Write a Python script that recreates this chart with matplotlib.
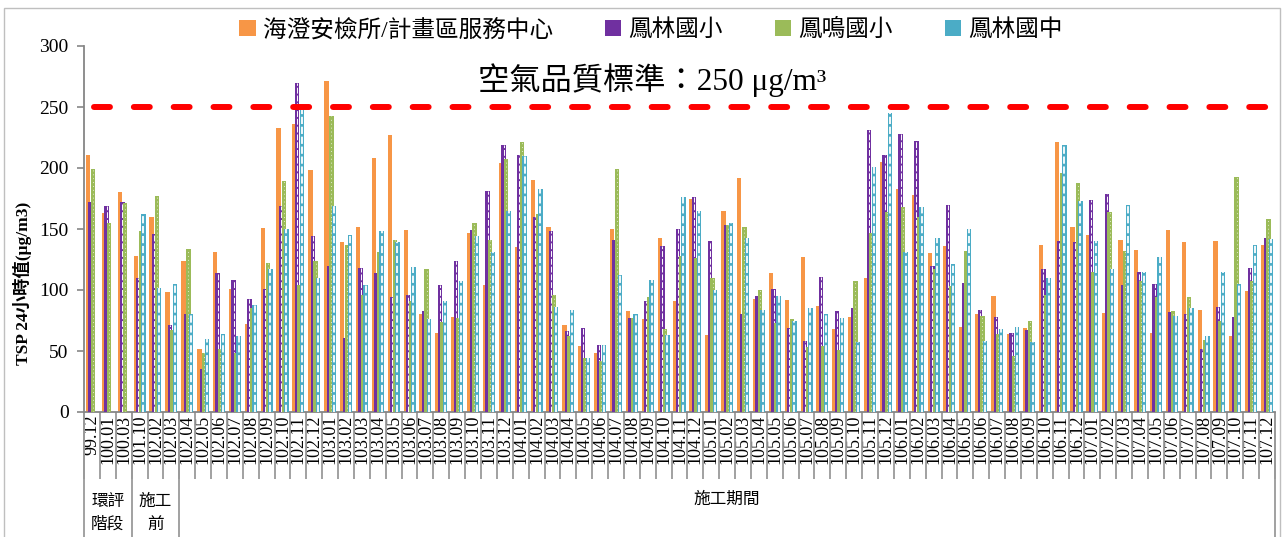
"""TSP 24-hour values at four monitoring stations, with the 250 ug/m3 standard."""

import matplotlib

matplotlib.use("Agg")
import matplotlib.pyplot as plt
import matplotlib.transforms as mtransforms
from matplotlib.patches import Rectangle
import numpy as np

plt.rcParams["font.family"] = ["Liberation Serif", "Noto Sans CJK TC", "DejaVu Sans"]

CATEGORIES = [
    "99.12", "100.01", "100.03", "101.10", "102.02", "102.03",
    "102.04", "102.05", "102.06", "102.07", "102.08", "102.09", "102.10", "102.11", "102.12",
    "103.01", "103.02", "103.03", "103.04", "103.05", "103.06",
    "103.07", "103.08", "103.09", "103.10", "103.11", "103.12",
    "104.01", "104.02", "104.03", "104.04", "104.05", "104.06",
    "104.07", "104.08", "104.09", "104.10", "104.11", "104.12",
    "105.01", "105.02", "105.03", "105.04", "105.05", "105.06",
    "105.07", "105.08", "105.09", "105.10", "105.11", "105.12",
    "106.01", "106.02", "106.03", "106.04", "106.05", "106.06",
    "106.07", "106.08", "106.09", "106.10", "106.11", "106.12",
    "107.01", "107.02", "107.03", "107.04", "107.05", "107.06",
    "107.07", "107.08", "107.09", "107.10", "107.11", "107.12",
]

SERIES_NAMES = ["海澄安檢所/計畫區服務中心", "鳳林國小", "鳳鳴國小", "鳳林國中"]

HAICHENG = [
    211, 163, 180, 128, 160, 98, 124, 52, 131, 101, 72, 151, 233, 236, 198,
    271, 139, 152, 208, 227, 149, 80, 65, 78, 147, 104, 204,
    135, 190, 152, 71, 54, 48, 150, 83, 76, 143, 91, 175,
    63, 165, 192, 93, 114, 92, 127, 87, 68, 78, 110, 205,
    183, 178, 130, 136, 70, 80, 95, 64, 69, 137, 221, 152,
    145, 81, 141, 133, 65, 149, 139, 84, 140, 62, 99, 137,
]
FENGLIN_ELEM = [
    172, 169, 172, 110, 146, 71, 80, 35, 114, 108, 93, 101, 169, 270, 144,
    120, 61, 118, 114, 94, 96, 83, 104, 124, 149, 181, 219,
    211, 160, 148, 66, 69, 55, 141, 77, 91, 136, 150, 176,
    140, 153, 80, 95, 101, 69, 58, 111, 83, 85, 231, 211,
    228, 222, 120, 170, 106, 84, 78, 65, 67, 117, 140, 139,
    174, 179, 104, 115, 105, 82, 80, 52, 86, 78, 118, 143,
]
FENGMING_ELEM = [
    199, 155, 171, 148, 177, 67, 134, 48, 52, 48, 85, 122, 189, 104, 124,
    243, 137, 96, 131, 141, 91, 117, 74, 77, 155, 141, 207,
    221, 162, 96, 62, 44, 42, 199, 77, 94, 68, 128, 126,
    110, 153, 152, 100, 73, 76, 53, 54, 51, 107, 147, 164,
    168, 160, 117, 103, 132, 79, 64, 46, 75, 96, 196, 188,
    115, 164, 132, 107, 94, 83, 94, 59, 75, 193, 107, 158,
]
FENGLIN_JUNIOR = [
    np.nan, np.nan, np.nan, 162, 102, 105, 80, 60, 64, 62, 88, 117, 150, 248, 110,
    169, 145, 104, 148, 139, 119, 76, 91, 107, 144, 131, 165,
    210, 183, 86, 84, 44, 55, 112, 80, 108, 63, 176, 165,
    100, 155, 143, 84, 95, 75, 85, 80, 77, 57, 201, 245,
    131, 168, 143, 121, 150, 58, 68, 70, 57, 110, 219, 173,
    140, 117, 170, 115, 127, 79, 85, 62, 115, 105, 137, 142,
]

PHASES = ["環評\n階段", "施工\n前", "施工期間"]
PHASE_BOUNDS = [(0, 3), (3, 6), (6, 75)]

STANDARD = 250
COLORS = ["#F79646", "#7030A0", "#9BBB59", "#4BACC6"]


def main() -> None:
    series = [np.array(s, dtype=float) for s in
              (HAICHENG, FENGLIN_ELEM, FENGMING_ELEM, FENGLIN_JUNIOR)]
    n = len(CATEGORIES)
    x = np.arange(n)

    fig = plt.figure(figsize=(12.84, 5.37), dpi=100)
    ax = fig.add_axes([84 / 1284, 1 - 412 / 537, 1191 / 1284, 366 / 537])

    # bars overlap a little, orange sits behind the others
    offsets = [-0.24, -0.08, 0.08, 0.24]
    width = 0.28
    handles = []
    for i, (vals, color, name) in enumerate(zip(series, COLORS, SERIES_NAMES)):
        bars = ax.bar(x + offsets[i], vals, width=width, color=color,
                      linewidth=0, zorder=2 + i, label=name)
        handles.append(bars)
        mask = ~np.isnan(vals)
        if i == 1:
            ax.vlines(x[mask] + offsets[i], 0, vals[mask], colors="white",
                      linewidth=0.7, linestyles=(0, (6, 2)), zorder=2.5 + i)
        elif i == 2:
            ax.vlines(x[mask] + offsets[i], 0, vals[mask], colors="white",
                      linewidth=0.7, linestyles=(0, (1, 3)), alpha=0.7, zorder=2.5 + i)
        elif i == 3:
            ax.vlines(x[mask] + offsets[i], 0, vals[mask], colors="white",
                      linewidth=1.3, linestyles=(0, (4, 1.5)), zorder=2.5 + i)

    ax.axhline(STANDARD, xmin=0.008, xmax=0.996, color="#FF0000", linewidth=4.3,
               linestyle=(0, (2.67, 4.0)), dash_capstyle="round", zorder=10)

    ax.set_xlim(-0.5, n - 0.5)
    ax.set_ylim(0, 300)
    ax.set_yticks(np.arange(0, 301, 50))
    ax.tick_params(axis="y", labelsize=14, length=5, width=1.2, color="#868686", pad=6)

    ax.set_xticks(x)
    ax.set_xticklabels(CATEGORIES, rotation=90, fontsize=13)
    ax.tick_params(axis="x", length=0, pad=2)
    ax.set_xticks(np.arange(n + 1) - 0.5, minor=True)
    ax.tick_params(axis="x", which="minor", length=48, width=1.3, color="#9A9A9A")

    for side in ("top", "right"):
        ax.spines[side].set_visible(False)
    for side in ("left", "bottom"):
        ax.spines[side].set_color("#868686")
        ax.spines[side].set_linewidth(1.3)

    # second level of the category axis
    trans = mtransforms.blended_transform_factory(ax.transData, ax.transAxes)
    edges = sorted({b for pair in PHASE_BOUNDS for b in pair})
    ax.vlines(np.array(edges) - 0.5, -0.36, 0, transform=trans, colors="#9A9A9A",
              linewidth=1.3, clip_on=False)
    for label, (lo, hi) in zip(PHASES, PHASE_BOUNDS):
        center = (lo + hi - 1) / 2
        if "\n" in label:
            ax.text(center, -0.277, label, transform=trans, ha="center", va="center",
                    fontsize=12, linespacing=1.55)
        else:
            ax.text(center, -0.24, label, transform=trans, ha="center", va="center",
                    fontsize=12)

    fig.text(22 / 1284, 1 - 283 / 537, "TSP 24小時值(μg/m3)", rotation=90,
             ha="center", va="center", fontsize=12.5, fontweight="bold")
    fig.text(652 / 1284, 1 - 80 / 537, "空氣品質標準：250 μg/m³",
             ha="center", va="center", fontsize=22.5)

    fig.legend(handles, SERIES_NAMES, ncol=4, loc="center",
               bbox_to_anchor=(651 / 1284, 1 - 30 / 537), frameon=False,
               fontsize=17, handlelength=0.7, handleheight=0.7,
               handletextpad=0.3, columnspacing=2.2, borderpad=0)

    fig.add_artist(Rectangle((4 / 1284, -0.01), 1276 / 1284, 1 - 8 / 537 + 0.01,
                             transform=fig.transFigure, fill=False,
                             edgecolor="#BFBFBF", linewidth=1))

    fig.savefig("out.png", dpi=100)
    plt.close(fig)


if __name__ == "__main__":
    main()
